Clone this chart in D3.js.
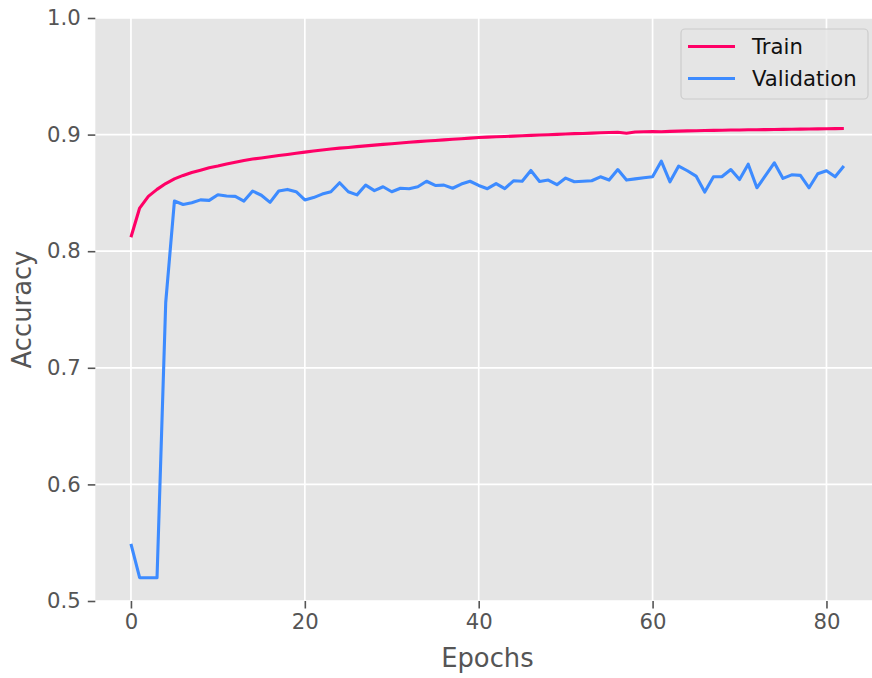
<!DOCTYPE html>
<html>
<head>
<meta charset="utf-8">
<script src="https://cdn.jsdelivr.net/npm/d3@7"></script>
<style>
  body { margin: 0; background: #fff; }
  svg { display: block; font-family: "DejaVu Sans", sans-serif; }
</style>
</head>
<body>
<div id="chart"></div>
<script>
// accuracy per epoch
const epochs = d3.range(0, 83);

const trainAcc = [
  0.812, 0.837, 0.847, 0.853, 0.858, 0.862, 0.865, 0.8675, 0.8695, 0.8715,
  0.873, 0.8748, 0.8763, 0.8778, 0.879, 0.880, 0.881, 0.882, 0.883, 0.884,
  0.885, 0.886, 0.8868, 0.8876, 0.8884, 0.889, 0.8897, 0.8903, 0.891, 0.8916,
  0.8922, 0.8928, 0.8934, 0.894, 0.8945, 0.895, 0.8955, 0.896, 0.8965, 0.897,
  0.8975, 0.8978, 0.8981, 0.8984, 0.8987, 0.899, 0.8993, 0.8996, 0.8999, 0.9002,
  0.9005, 0.9008, 0.901, 0.9013, 0.9016, 0.9018, 0.902, 0.9012, 0.9022, 0.9024,
  0.9026, 0.9024, 0.9028, 0.903, 0.9032, 0.9033, 0.9035, 0.9036, 0.9037, 0.9039,
  0.904, 0.9041, 0.9042, 0.9043, 0.9044, 0.9045, 0.9046, 0.9047, 0.9048, 0.9049,
  0.905, 0.9051, 0.9052
];

const valAcc = [
  0.549, 0.520, 0.520, 0.520, 0.756, 0.843, 0.840, 0.8416, 0.844, 0.8436,
  0.8484, 0.8473, 0.847, 0.843, 0.8516, 0.848, 0.8419, 0.8516, 0.853, 0.851,
  0.844, 0.846, 0.849, 0.851, 0.8587, 0.851, 0.8483, 0.8567, 0.852, 0.8553,
  0.851, 0.854, 0.8536, 0.8553, 0.860, 0.8564, 0.8567, 0.854, 0.8576, 0.860,
  0.8564, 0.8536, 0.858, 0.8536, 0.8604, 0.860, 0.8692, 0.8598, 0.861, 0.857,
  0.8627, 0.8596, 0.860, 0.8604, 0.8638, 0.861, 0.870, 0.861, 0.862, 0.863,
  0.8638, 0.8772, 0.8595, 0.873, 0.869, 0.8644, 0.8507, 0.8638, 0.864, 0.870,
  0.8615, 0.8746, 0.8544, 0.865, 0.8758, 0.8624, 0.8655, 0.865, 0.8544, 0.8664,
  0.869, 0.8638, 0.873
];

const xTicks = [0, 20, 40, 60, 80];
const yTicks = [0.5, 0.6, 0.7, 0.8, 0.9, 1.0];

const seriesNames = ['Train', 'Validation'];
const seriesColor = { Train: '#ff0066', Validation: '#3d8bff' };

const W = 872, H = 678;
const plot = { left: 95.3, right: 879.5, top: 18, bottom: 601 };
const INK = '#555555';

const svg = d3.select('#chart').append('svg')
  .attr('width', W)
  .attr('height', H);

const x = d3.scaleLinear().domain([-4.1, 86.1]).range([plot.left, plot.right]);
const y = d3.scaleLinear().domain([0.5, 1.0]).range([plot.bottom, plot.top]);

// panel background
svg.append('rect')
  .attr('x', plot.left).attr('y', plot.top)
  .attr('width', plot.right - plot.left)
  .attr('height', plot.bottom - plot.top)
  .attr('fill', '#e5e5e5');

// white grid
const grid = svg.append('g').attr('stroke', '#fff').attr('stroke-width', 1.7);
grid.selectAll('.gx').data(xTicks).join('line')
  .attr('x1', d => x(d)).attr('x2', d => x(d))
  .attr('y1', plot.top).attr('y2', plot.bottom);
grid.selectAll('.gy').data(yTicks).join('line')
  .attr('x1', plot.left).attr('x2', plot.right)
  .attr('y1', d => y(d)).attr('y2', d => y(d));

// axes
const styleAxis = g => {
  g.select('.domain').remove();
  g.selectAll('.tick line').attr('stroke', INK).attr('stroke-width', 1.6);
  g.selectAll('.tick text')
    .attr('fill', INK)
    .attr('font-size', 21.2)
    .attr('font-family', '"DejaVu Sans", sans-serif');
};

svg.append('g')
  .attr('transform', `translate(0,${plot.bottom})`)
  .call(d3.axisBottom(x).tickValues(xTicks).tickSize(7.5).tickPadding(5).tickFormat(d3.format('d')))
  .call(styleAxis);

svg.append('g')
  .attr('transform', `translate(${plot.left},0)`)
  .call(d3.axisLeft(y).tickValues(yTicks).tickSize(7.5).tickPadding(7).tickFormat(d3.format('.1f')))
  .call(styleAxis);

// axis labels
svg.append('text')
  .attr('x', (plot.left + plot.right) / 2)
  .attr('y', 667)
  .attr('text-anchor', 'middle')
  .attr('fill', INK)
  .attr('font-size', 25.8)
  .text('Epochs');

svg.append('text')
  .attr('transform', `translate(31,${(plot.top + plot.bottom) / 2}) rotate(-90)`)
  .attr('text-anchor', 'middle')
  .attr('fill', INK)
  .attr('font-size', 25.8)
  .text('Accuracy');

// lines
const line = d3.line()
  .x((d, i) => x(epochs[i]))
  .y(d => y(d));

svg.append('path')
  .datum(trainAcc)
  .attr('fill', 'none')
  .attr('stroke', seriesColor.Train)
  .attr('stroke-width', 3.1)
  .attr('stroke-linejoin', 'round')
  .attr('d', line);

svg.append('path')
  .datum(valAcc)
  .attr('fill', 'none')
  .attr('stroke', seriesColor.Validation)
  .attr('stroke-width', 3.1)
  .attr('stroke-linejoin', 'round')
  .attr('d', line);

// legend
const leg = svg.append('g');
leg.append('rect')
  .attr('x', 681).attr('y', 29)
  .attr('width', 187).attr('height', 70)
  .attr('rx', 4)
  .attr('fill', '#e5e5e5')
  .attr('fill-opacity', 0.8)
  .attr('stroke', '#cccccc')
  .attr('stroke-width', 1.2);

seriesNames.forEach((name, i) => {
  const ly = 46.5 + i * 32;
  leg.append('line')
    .attr('x1', 688).attr('x2', 735)
    .attr('y1', ly).attr('y2', ly)
    .attr('stroke', seriesColor[name])
    .attr('stroke-width', 3.1);
  leg.append('text')
    .attr('x', 752).attr('y', ly)
    .attr('dy', '0.35em')
    .attr('fill', '#111')
    .attr('font-size', 21.2)
    .text(name);
});
</script>
</body>
</html>
